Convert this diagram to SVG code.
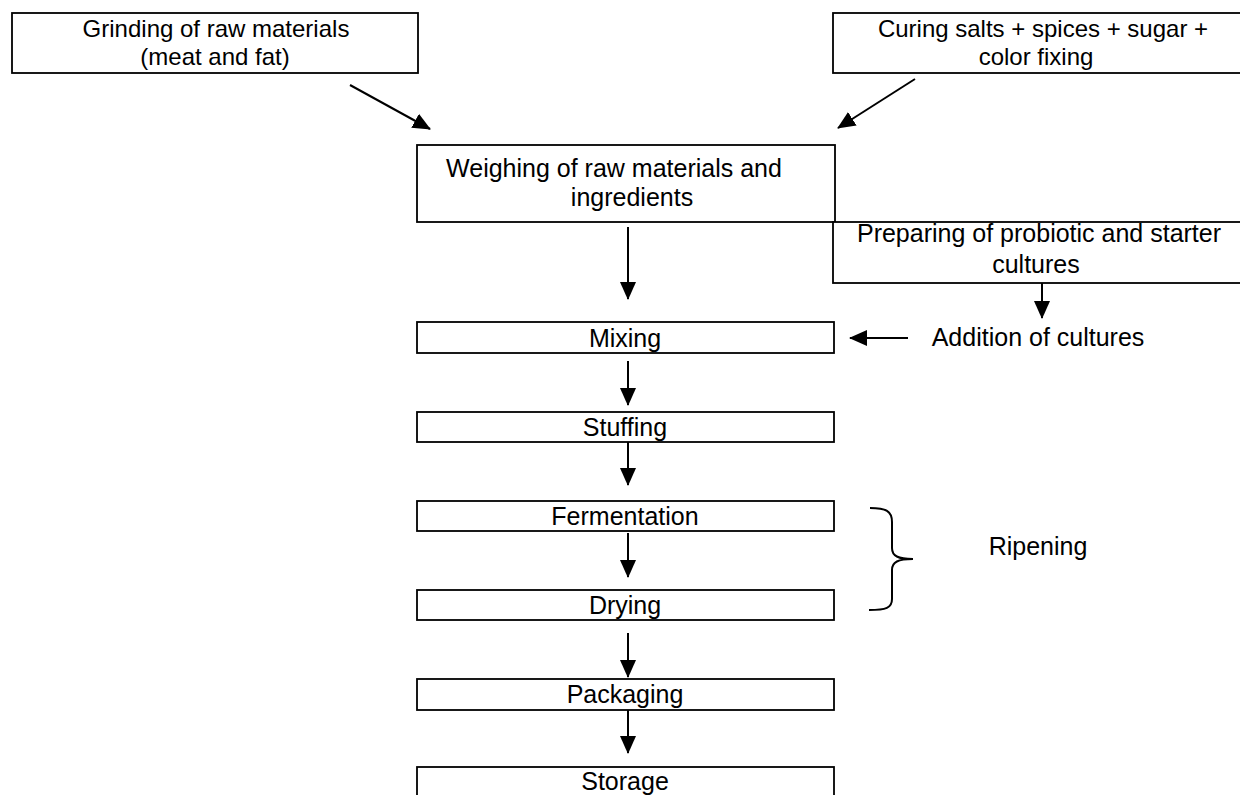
<svg xmlns="http://www.w3.org/2000/svg" width="1240" height="795" viewBox="0 0 1240 795">
<style>
.box{fill:#fff;stroke:#000;stroke-width:1.8}
.t{font-family:"Liberation Sans",Arial,sans-serif;font-size:24px;fill:#000;text-anchor:middle}
.t2{font-size:25px}
.c{stroke:#000;stroke-width:2;fill:none}
.ar{marker-end:url(#ah)}
</style>
<defs>
<marker id="ah" markerUnits="userSpaceOnUse" markerWidth="18" markerHeight="16" refX="17" refY="8" orient="auto">
<path d="M0,0 L18,8 L0,16 Z" fill="#000"/>
</marker>
</defs>
<rect width="1240" height="795" fill="#fff"/>
<g id="grinding"><rect class="box" x="12" y="13" width="406" height="60"/>
<text class="t" x="216" y="37">Grinding of raw materials</text><text class="t" x="215" y="65">(meat and fat)</text></g>
<g id="curing"><rect class="box" x="833" y="13" width="430" height="60"/>
<text class="t" x="1043" y="37">Curing salts + spices + sugar +</text><text class="t" x="1036" y="65">color fixing</text></g>
<g id="weighing"><rect class="box" x="417" y="145" width="418" height="77"/>
<text class="t t2" x="614" y="177">Weighing of raw materials and</text><text class="t t2" x="632" y="206">ingredients</text></g>
<g id="preparing"><rect class="box" x="833" y="222" width="430" height="61"/>
<text class="t t2" x="1039" y="242">Preparing of probiotic and starter</text><text class="t t2" x="1036" y="273">cultures</text></g>
<g id="addition"><text class="t t2" x="1038" y="346">Addition of cultures</text></g>
<g id="mixing"><rect class="box" x="417" y="322" width="417" height="31"/><text class="t t2" x="625" y="347">Mixing</text></g>
<g id="stuffing"><rect class="box" x="417" y="412" width="417" height="30"/><text class="t t2" x="625" y="436">Stuffing</text></g>
<g id="fermentation"><rect class="box" x="417" y="501" width="417" height="30"/><text class="t t2" x="625" y="525">Fermentation</text></g>
<g id="drying"><rect class="box" x="417" y="590" width="417" height="30"/><text class="t t2" x="625" y="614">Drying</text></g>
<g id="packaging"><rect class="box" x="417" y="679" width="417" height="31"/><text class="t t2" x="625" y="703">Packaging</text></g>
<g id="storage"><rect class="box" x="417" y="767" width="417" height="50"/><text class="t t2" x="625" y="790">Storage</text></g>
<g id="ripening"><path class="c" d="M870,508 C886,508 892,511 892,522 L892,548 C892,556 898,559 913,559 C898,559 892,562 892,570 L892,599 C892,608 886,610 869,610"/>
<text class="t t2" x="1038" y="555">Ripening</text></g>
<g id="connectors">
<line class="c ar" x1="350" y1="85" x2="430" y2="129"/>
<line class="c ar" x1="915" y1="79" x2="838" y2="128"/>
<line class="c ar" x1="628" y1="227" x2="628" y2="299"/>
<line class="c ar" x1="1042" y1="283" x2="1042" y2="318"/>
<line class="c ar" x1="908" y1="338" x2="850" y2="338"/>
<line class="c ar" x1="628" y1="361" x2="628" y2="405"/>
<line class="c ar" x1="628" y1="442" x2="628" y2="485"/>
<line class="c ar" x1="628" y1="533" x2="628" y2="577"/>
<line class="c ar" x1="628" y1="633" x2="628" y2="677"/>
<line class="c ar" x1="628" y1="710" x2="628" y2="753"/>
</g>
</svg>
